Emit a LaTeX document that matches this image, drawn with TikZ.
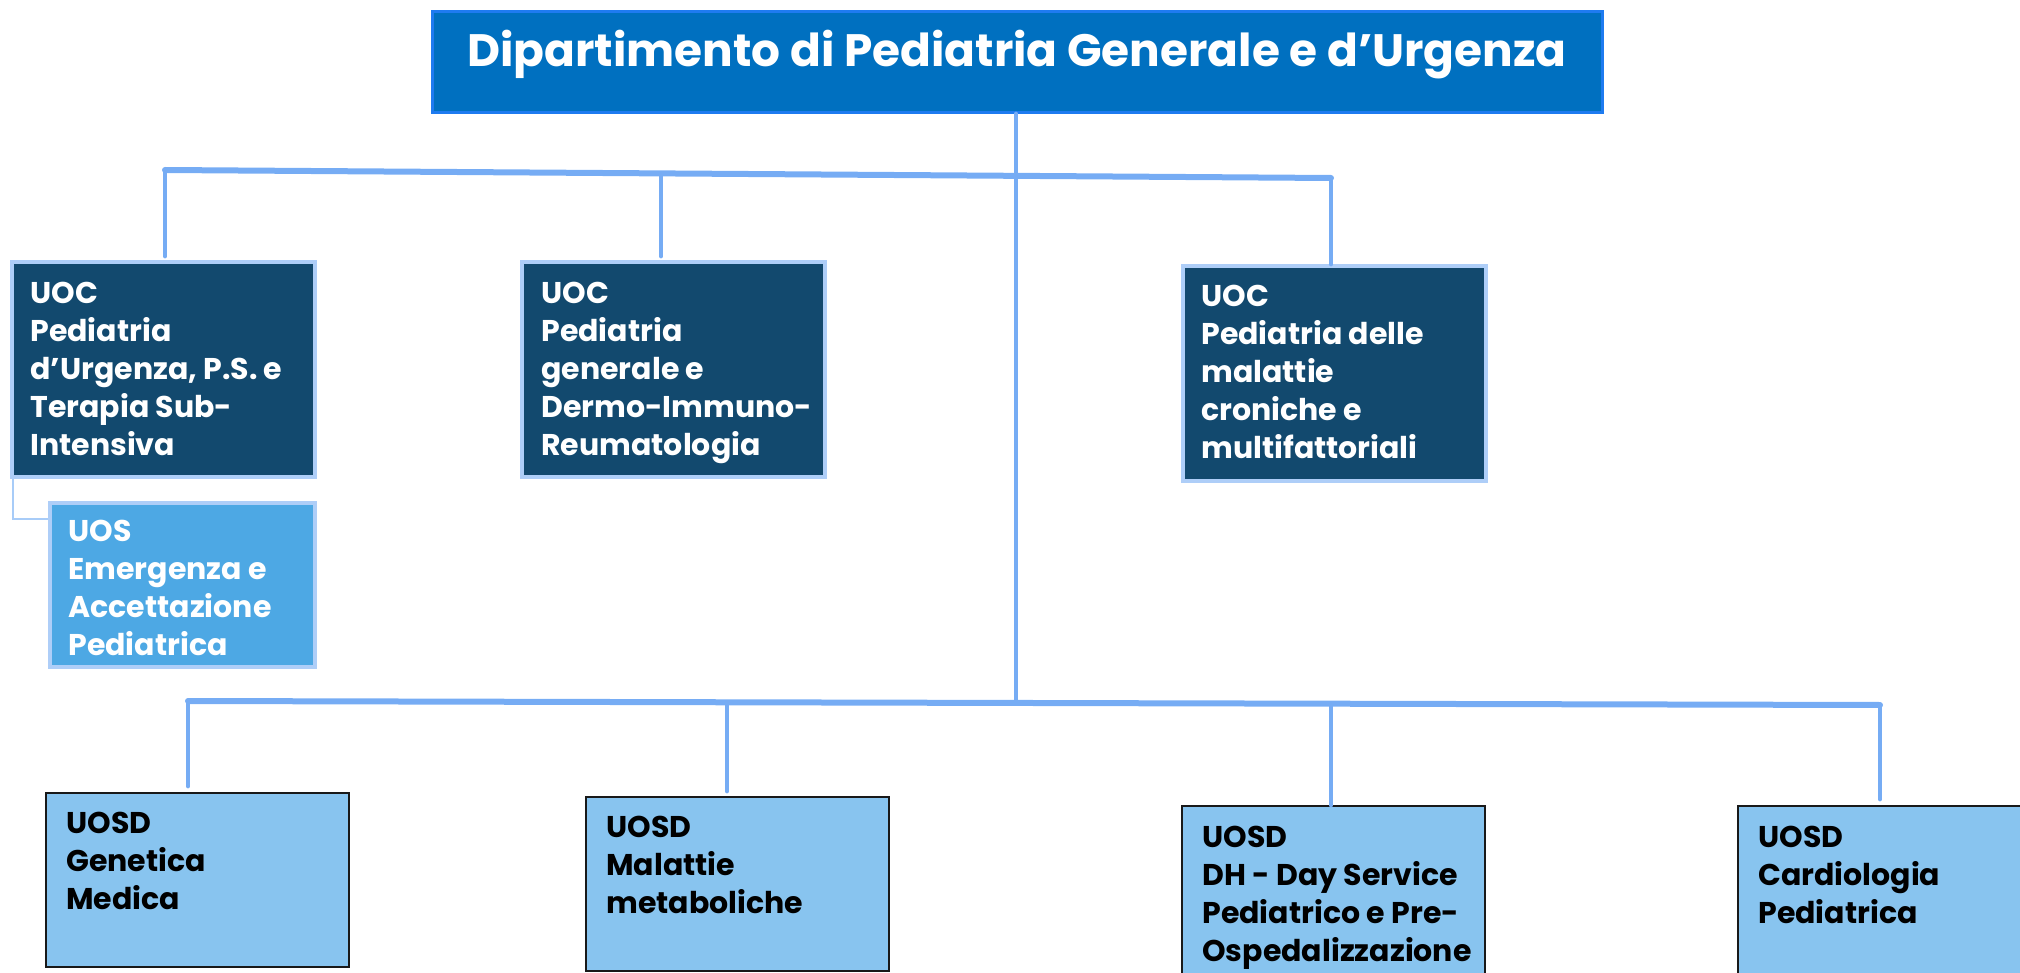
\documentclass[tikz,border=0pt]{standalone}
\usepackage{fontspec}
\setmainfont{Poppins}
\definecolor{titlefill}{HTML}{0070C0}
\definecolor{titleedge}{HTML}{1E7BF0}
\definecolor{uocfill}{HTML}{12496E}
\definecolor{uocedge}{HTML}{AECEF8}
\definecolor{uosfill}{HTML}{4DA8E4}
\definecolor{uosdfill}{HTML}{88C4EF}
\definecolor{busline}{HTML}{76ACF4}
\definecolor{subline}{HTML}{A8CCF8}
\begin{document}
\begin{tikzpicture}[x=0.5pt,y=-0.5pt,
  titlebox/.style={draw=titleedge,line width=1.5pt,fill=titlefill,anchor=north west,inner sep=0pt},
  uocbox/.style={draw=uocedge,line width=2pt,fill=uocfill,anchor=north west,inner sep=0pt,minimum width=151.5pt,minimum height=107.5pt},
  uosbox/.style={draw=uocedge,line width=2pt,fill=uosfill,anchor=north west,inner sep=0pt},
  uosdbox/.style={draw=black!90,line width=1.2pt,fill=uosdfill,anchor=north west,inner sep=0pt,minimum width=151.5pt,minimum height=87pt},
  lbl/.style={anchor=north west,inner sep=0pt,align=left,font=\fontsize{15}{19}\selectfont\bfseries},
  bus/.style={draw=busline,line width=3pt,line cap=round},
  drop/.style={draw=busline,line width=2.4pt,line cap=round},
  sub/.style={draw=subline,line width=1.3pt}
]
\useasboundingbox (0,0) rectangle (2020,973);

% title
\node[titlebox,minimum width=585pt,minimum height=50.5pt] (top) at (431,10) {};
\node[anchor=base,inner sep=0pt,text=white,font=\fontsize{22.7}{28}\selectfont\bfseries] (toptxt) at (1017,67) {Dipartimento di Pediatria Generale e d’Urgenza};

% UOC boxes
\node[uocbox] (uoc1) at (10,260) {};
\node[lbl,text=white] (uoc1t) at (30,282) {UOC\\Pediatria\\d’Urgenza, P.S. e\\Terapia Sub-\\Intensiva};
\node[uocbox] (uoc2) at (520,260) {};
\node[lbl,text=white] (uoc2t) at (541,282) {UOC\\Pediatria\\generale e\\Dermo-Immuno-\\Reumatologia};
\node[uocbox] (uoc3) at (1181,264) {};
\node[lbl,text=white] (uoc3t) at (1201,285) {UOC\\Pediatria delle\\malattie\\croniche e\\multifattoriali};

% UOS box
\node[uosbox,minimum width=132.5pt,minimum height=82pt] (uos) at (48,501) {};
\node[lbl,text=white] (uost) at (68,520) {UOS\\Emergenza e\\Accettazione\\Pediatrica};

% UOSD boxes
\node[uosdbox] (g1) at (45,792) {};
\node[lbl] (g1t) at (66,812) {UOSD\\Genetica\\Medica};
\node[uosdbox] (g2) at (585,796) {};
\node[lbl] (g2t) at (606,816) {UOSD\\Malattie\\metaboliche};
\node[uosdbox,minimum height=100pt] (g3) at (1181,805) {};
\node[lbl] (g3t) at (1202,826) {UOSD\\DH - Day Service\\Pediatrico e Pre-\\Ospedalizzazione};
\node[uosdbox,minimum height=100pt,minimum width=160pt] (g4) at (1737,805) {};
\node[lbl] (g4t) at (1758,826) {UOSD\\Cardiologia\\Pediatrica};

% bus coordinates
\coordinate (ua) at (165,170);
\coordinate (ub) at (1331,178);
\coordinate (ux) at (661,173.4);
\coordinate (la) at (188,701);
\coordinate (lb) at (1880,705);
\coordinate (lx) at (727,702.3);
\coordinate (lm) at (1016,702.9);
\coordinate (ly) at (1331,704.5);

% connectors
\draw[bus] (ua) -- (ub);
\draw[bus] (la) -- (lb);
\draw[drop] (top.south -| lm) -- (lm);
\draw[drop] (ua) -- ([yshift=2pt]ua |- uoc1.north);
\draw[drop] (ux) -- ([yshift=2pt]ux |- uoc2.north);
\draw[drop] (ub) -- (ub |- uoc3.north);
\draw[drop] (la) -- ([yshift=3pt]la |- g1.north);
\draw[drop] (lx) -- ([yshift=2.5pt]lx |- g2.north);
\draw[drop] (ly) -- (ly |- g3.north);
\draw[drop] (lb) -- ([yshift=3pt]lb |- g4.north);
\draw[sub] ([xshift=1.5pt]uoc1.south west) |- (uos.west |- 0,519);
\end{tikzpicture}
\end{document}
